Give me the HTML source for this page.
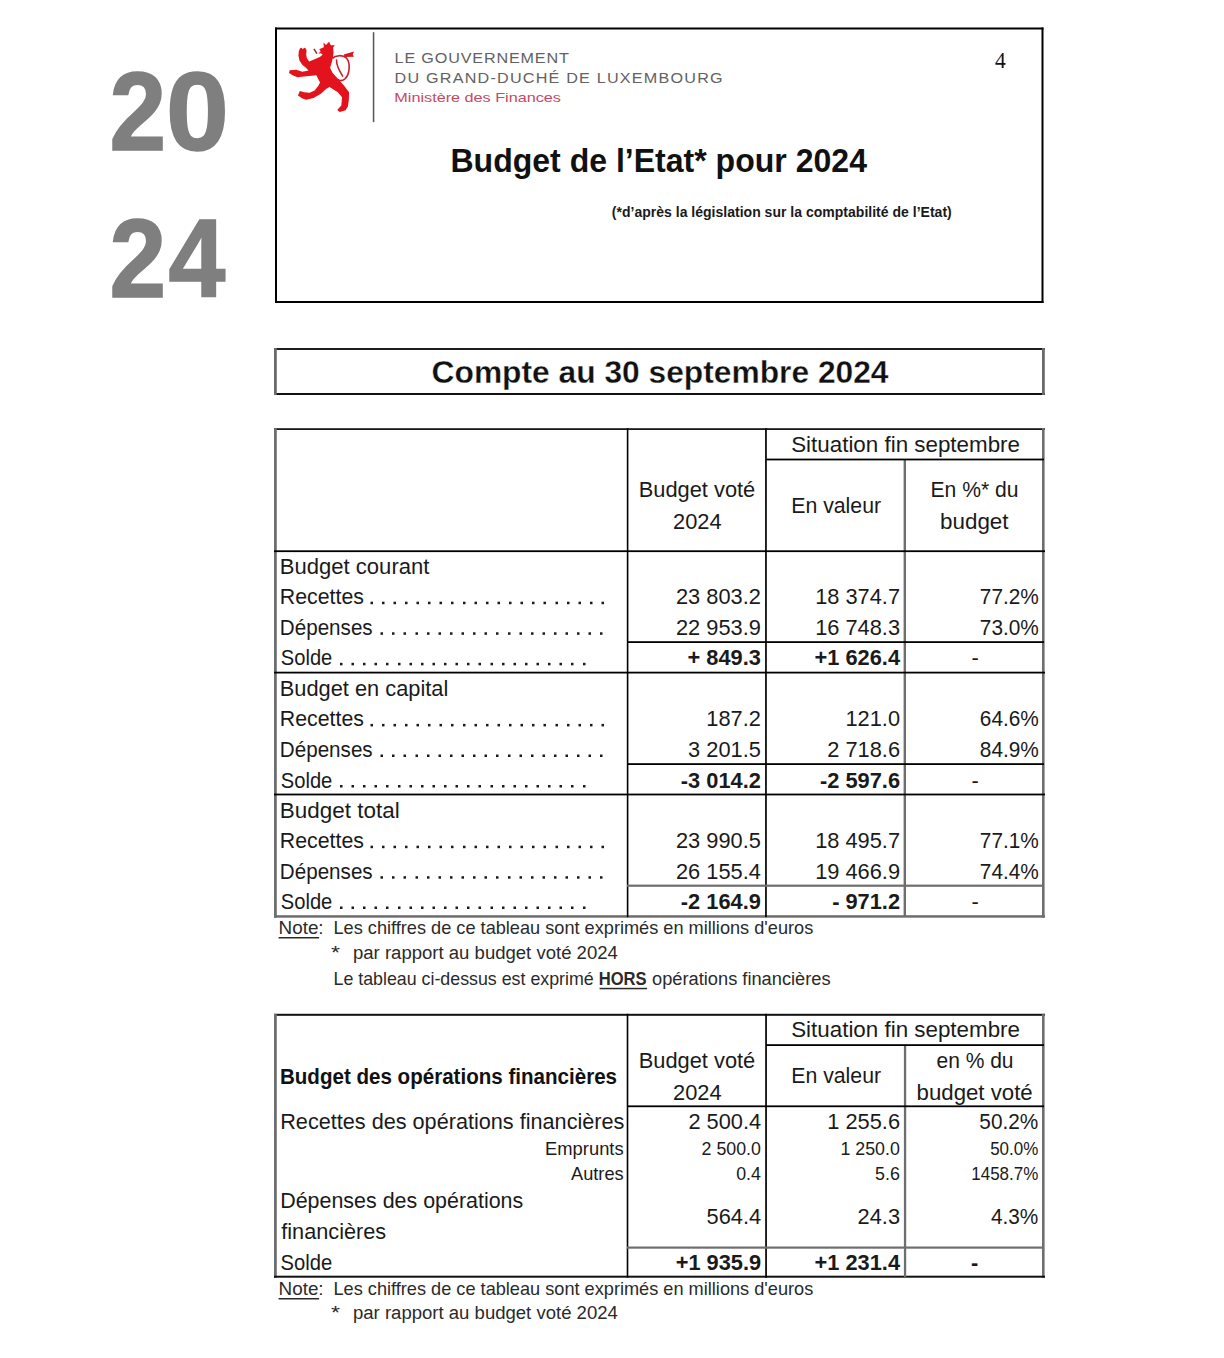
<!DOCTYPE html>
<html><head><meta charset="utf-8"><title>Budget de l'Etat 2024</title>
<style>
html,body{margin:0;padding:0;background:#fff;}
body{width:1224px;height:1358px;overflow:hidden;font-family:"Liberation Sans",sans-serif;}
svg{display:block;position:absolute;left:0;top:0;}
.LS{font-family:"Liberation Sans",sans-serif;}
.LR{font-family:"Liberation Serif",serif;}
.b{font-weight:bold;}
text{fill:#1a1a1a;white-space:pre;}
</style></head><body>
<svg width="1224" height="1358" viewBox="0 0 1224 1358">
<g shape-rendering="auto">
<rect x="275.00" y="27.50" width="768.50" height="2.00"/>
<rect x="275.00" y="27.50" width="2.00" height="275.50"/>
<rect x="1041.50" y="27.50" width="2.00" height="275.50"/>
<rect x="275.00" y="301.00" width="768.50" height="2.00"/>
<rect x="372.80" y="32.20" width="1.50" height="90.00" fill="#555"/>
<rect x="274.00" y="348.00" width="771.00" height="2.00" fill="#1e1e1e"/>
<rect x="274.00" y="393.00" width="771.00" height="2.00" fill="#111"/>
<rect x="274.00" y="348.00" width="2.80" height="47.00" fill="#6a6a6a"/>
<rect x="1042.00" y="348.00" width="2.80" height="47.00" fill="#6a6a6a"/>
<rect x="274.00" y="428.20" width="771.00" height="1.80" fill="#1a1a1a"/>
<rect x="274.00" y="428.20" width="2.80" height="489.50" fill="#6e6e6e"/>
<rect x="1042.00" y="428.20" width="2.60" height="489.50" fill="#6e6e6e"/>
<rect x="274.00" y="915.20" width="771.00" height="2.50" fill="#6e6e6e"/>
<rect x="626.80" y="428.20" width="1.60" height="489.00"/>
<rect x="765.10" y="428.20" width="1.70" height="489.00"/>
<rect x="903.60" y="459.00" width="2.40" height="458.00" fill="#6e6e6e"/>
<rect x="766.00" y="458.60" width="278.00" height="1.80"/>
<rect x="274.00" y="550.30" width="771.00" height="1.80"/>
<rect x="274.00" y="671.70" width="771.00" height="1.80"/>
<rect x="274.00" y="793.60" width="771.00" height="1.80"/>
<rect x="627.00" y="641.20" width="417.00" height="1.80"/>
<rect x="627.00" y="763.20" width="417.00" height="1.80"/>
<rect x="627.00" y="884.60" width="417.00" height="2.20" fill="#6e6e6e"/>
<rect x="370.50" y="601.70" width="2.50" height="2.50" fill="#1a1a1a"/>
<rect x="382.00" y="601.70" width="2.50" height="2.50" fill="#1a1a1a"/>
<rect x="393.50" y="601.70" width="2.50" height="2.50" fill="#1a1a1a"/>
<rect x="405.00" y="601.70" width="2.50" height="2.50" fill="#1a1a1a"/>
<rect x="416.50" y="601.70" width="2.50" height="2.50" fill="#1a1a1a"/>
<rect x="428.00" y="601.70" width="2.50" height="2.50" fill="#1a1a1a"/>
<rect x="439.50" y="601.70" width="2.50" height="2.50" fill="#1a1a1a"/>
<rect x="451.00" y="601.70" width="2.50" height="2.50" fill="#1a1a1a"/>
<rect x="463.00" y="601.70" width="2.50" height="2.50" fill="#1a1a1a"/>
<rect x="474.50" y="601.70" width="2.50" height="2.50" fill="#1a1a1a"/>
<rect x="486.00" y="601.70" width="2.50" height="2.50" fill="#1a1a1a"/>
<rect x="497.50" y="601.70" width="2.50" height="2.50" fill="#1a1a1a"/>
<rect x="509.00" y="601.70" width="2.50" height="2.50" fill="#1a1a1a"/>
<rect x="520.50" y="601.70" width="2.50" height="2.50" fill="#1a1a1a"/>
<rect x="532.00" y="601.70" width="2.50" height="2.50" fill="#1a1a1a"/>
<rect x="543.50" y="601.70" width="2.50" height="2.50" fill="#1a1a1a"/>
<rect x="555.50" y="601.70" width="2.50" height="2.50" fill="#1a1a1a"/>
<rect x="567.00" y="601.70" width="2.50" height="2.50" fill="#1a1a1a"/>
<rect x="578.50" y="601.70" width="2.50" height="2.50" fill="#1a1a1a"/>
<rect x="590.00" y="601.70" width="2.50" height="2.50" fill="#1a1a1a"/>
<rect x="601.50" y="601.70" width="2.50" height="2.50" fill="#1a1a1a"/>
<rect x="380.50" y="632.30" width="2.50" height="2.50" fill="#1a1a1a"/>
<rect x="392.00" y="632.30" width="2.50" height="2.50" fill="#1a1a1a"/>
<rect x="403.50" y="632.30" width="2.50" height="2.50" fill="#1a1a1a"/>
<rect x="415.50" y="632.30" width="2.50" height="2.50" fill="#1a1a1a"/>
<rect x="427.00" y="632.30" width="2.50" height="2.50" fill="#1a1a1a"/>
<rect x="438.50" y="632.30" width="2.50" height="2.50" fill="#1a1a1a"/>
<rect x="450.00" y="632.30" width="2.50" height="2.50" fill="#1a1a1a"/>
<rect x="461.50" y="632.30" width="2.50" height="2.50" fill="#1a1a1a"/>
<rect x="473.00" y="632.30" width="2.50" height="2.50" fill="#1a1a1a"/>
<rect x="484.50" y="632.30" width="2.50" height="2.50" fill="#1a1a1a"/>
<rect x="496.00" y="632.30" width="2.50" height="2.50" fill="#1a1a1a"/>
<rect x="508.00" y="632.30" width="2.50" height="2.50" fill="#1a1a1a"/>
<rect x="519.50" y="632.30" width="2.50" height="2.50" fill="#1a1a1a"/>
<rect x="531.00" y="632.30" width="2.50" height="2.50" fill="#1a1a1a"/>
<rect x="542.50" y="632.30" width="2.50" height="2.50" fill="#1a1a1a"/>
<rect x="554.00" y="632.30" width="2.50" height="2.50" fill="#1a1a1a"/>
<rect x="565.50" y="632.30" width="2.50" height="2.50" fill="#1a1a1a"/>
<rect x="577.00" y="632.30" width="2.50" height="2.50" fill="#1a1a1a"/>
<rect x="588.50" y="632.30" width="2.50" height="2.50" fill="#1a1a1a"/>
<rect x="600.00" y="632.30" width="2.50" height="2.50" fill="#1a1a1a"/>
<rect x="340.00" y="662.80" width="2.50" height="2.50" fill="#1a1a1a"/>
<rect x="351.50" y="662.80" width="2.50" height="2.50" fill="#1a1a1a"/>
<rect x="363.00" y="662.80" width="2.50" height="2.50" fill="#1a1a1a"/>
<rect x="374.50" y="662.80" width="2.50" height="2.50" fill="#1a1a1a"/>
<rect x="386.00" y="662.80" width="2.50" height="2.50" fill="#1a1a1a"/>
<rect x="398.00" y="662.80" width="2.50" height="2.50" fill="#1a1a1a"/>
<rect x="409.50" y="662.80" width="2.50" height="2.50" fill="#1a1a1a"/>
<rect x="421.00" y="662.80" width="2.50" height="2.50" fill="#1a1a1a"/>
<rect x="432.50" y="662.80" width="2.50" height="2.50" fill="#1a1a1a"/>
<rect x="444.00" y="662.80" width="2.50" height="2.50" fill="#1a1a1a"/>
<rect x="455.50" y="662.80" width="2.50" height="2.50" fill="#1a1a1a"/>
<rect x="467.00" y="662.80" width="2.50" height="2.50" fill="#1a1a1a"/>
<rect x="478.50" y="662.80" width="2.50" height="2.50" fill="#1a1a1a"/>
<rect x="490.50" y="662.80" width="2.50" height="2.50" fill="#1a1a1a"/>
<rect x="502.00" y="662.80" width="2.50" height="2.50" fill="#1a1a1a"/>
<rect x="513.50" y="662.80" width="2.50" height="2.50" fill="#1a1a1a"/>
<rect x="525.00" y="662.80" width="2.50" height="2.50" fill="#1a1a1a"/>
<rect x="536.50" y="662.80" width="2.50" height="2.50" fill="#1a1a1a"/>
<rect x="548.00" y="662.80" width="2.50" height="2.50" fill="#1a1a1a"/>
<rect x="559.50" y="662.80" width="2.50" height="2.50" fill="#1a1a1a"/>
<rect x="571.00" y="662.80" width="2.50" height="2.50" fill="#1a1a1a"/>
<rect x="583.00" y="662.80" width="2.50" height="2.50" fill="#1a1a1a"/>
<rect x="370.50" y="723.90" width="2.50" height="2.50" fill="#1a1a1a"/>
<rect x="382.00" y="723.90" width="2.50" height="2.50" fill="#1a1a1a"/>
<rect x="393.50" y="723.90" width="2.50" height="2.50" fill="#1a1a1a"/>
<rect x="405.00" y="723.90" width="2.50" height="2.50" fill="#1a1a1a"/>
<rect x="416.50" y="723.90" width="2.50" height="2.50" fill="#1a1a1a"/>
<rect x="428.00" y="723.90" width="2.50" height="2.50" fill="#1a1a1a"/>
<rect x="439.50" y="723.90" width="2.50" height="2.50" fill="#1a1a1a"/>
<rect x="451.00" y="723.90" width="2.50" height="2.50" fill="#1a1a1a"/>
<rect x="463.00" y="723.90" width="2.50" height="2.50" fill="#1a1a1a"/>
<rect x="474.50" y="723.90" width="2.50" height="2.50" fill="#1a1a1a"/>
<rect x="486.00" y="723.90" width="2.50" height="2.50" fill="#1a1a1a"/>
<rect x="497.50" y="723.90" width="2.50" height="2.50" fill="#1a1a1a"/>
<rect x="509.00" y="723.90" width="2.50" height="2.50" fill="#1a1a1a"/>
<rect x="520.50" y="723.90" width="2.50" height="2.50" fill="#1a1a1a"/>
<rect x="532.00" y="723.90" width="2.50" height="2.50" fill="#1a1a1a"/>
<rect x="543.50" y="723.90" width="2.50" height="2.50" fill="#1a1a1a"/>
<rect x="555.50" y="723.90" width="2.50" height="2.50" fill="#1a1a1a"/>
<rect x="567.00" y="723.90" width="2.50" height="2.50" fill="#1a1a1a"/>
<rect x="578.50" y="723.90" width="2.50" height="2.50" fill="#1a1a1a"/>
<rect x="590.00" y="723.90" width="2.50" height="2.50" fill="#1a1a1a"/>
<rect x="601.50" y="723.90" width="2.50" height="2.50" fill="#1a1a1a"/>
<rect x="380.50" y="754.50" width="2.50" height="2.50" fill="#1a1a1a"/>
<rect x="392.00" y="754.50" width="2.50" height="2.50" fill="#1a1a1a"/>
<rect x="403.50" y="754.50" width="2.50" height="2.50" fill="#1a1a1a"/>
<rect x="415.50" y="754.50" width="2.50" height="2.50" fill="#1a1a1a"/>
<rect x="427.00" y="754.50" width="2.50" height="2.50" fill="#1a1a1a"/>
<rect x="438.50" y="754.50" width="2.50" height="2.50" fill="#1a1a1a"/>
<rect x="450.00" y="754.50" width="2.50" height="2.50" fill="#1a1a1a"/>
<rect x="461.50" y="754.50" width="2.50" height="2.50" fill="#1a1a1a"/>
<rect x="473.00" y="754.50" width="2.50" height="2.50" fill="#1a1a1a"/>
<rect x="484.50" y="754.50" width="2.50" height="2.50" fill="#1a1a1a"/>
<rect x="496.00" y="754.50" width="2.50" height="2.50" fill="#1a1a1a"/>
<rect x="508.00" y="754.50" width="2.50" height="2.50" fill="#1a1a1a"/>
<rect x="519.50" y="754.50" width="2.50" height="2.50" fill="#1a1a1a"/>
<rect x="531.00" y="754.50" width="2.50" height="2.50" fill="#1a1a1a"/>
<rect x="542.50" y="754.50" width="2.50" height="2.50" fill="#1a1a1a"/>
<rect x="554.00" y="754.50" width="2.50" height="2.50" fill="#1a1a1a"/>
<rect x="565.50" y="754.50" width="2.50" height="2.50" fill="#1a1a1a"/>
<rect x="577.00" y="754.50" width="2.50" height="2.50" fill="#1a1a1a"/>
<rect x="588.50" y="754.50" width="2.50" height="2.50" fill="#1a1a1a"/>
<rect x="600.00" y="754.50" width="2.50" height="2.50" fill="#1a1a1a"/>
<rect x="340.00" y="785.00" width="2.50" height="2.50" fill="#1a1a1a"/>
<rect x="351.50" y="785.00" width="2.50" height="2.50" fill="#1a1a1a"/>
<rect x="363.00" y="785.00" width="2.50" height="2.50" fill="#1a1a1a"/>
<rect x="374.50" y="785.00" width="2.50" height="2.50" fill="#1a1a1a"/>
<rect x="386.00" y="785.00" width="2.50" height="2.50" fill="#1a1a1a"/>
<rect x="398.00" y="785.00" width="2.50" height="2.50" fill="#1a1a1a"/>
<rect x="409.50" y="785.00" width="2.50" height="2.50" fill="#1a1a1a"/>
<rect x="421.00" y="785.00" width="2.50" height="2.50" fill="#1a1a1a"/>
<rect x="432.50" y="785.00" width="2.50" height="2.50" fill="#1a1a1a"/>
<rect x="444.00" y="785.00" width="2.50" height="2.50" fill="#1a1a1a"/>
<rect x="455.50" y="785.00" width="2.50" height="2.50" fill="#1a1a1a"/>
<rect x="467.00" y="785.00" width="2.50" height="2.50" fill="#1a1a1a"/>
<rect x="478.50" y="785.00" width="2.50" height="2.50" fill="#1a1a1a"/>
<rect x="490.50" y="785.00" width="2.50" height="2.50" fill="#1a1a1a"/>
<rect x="502.00" y="785.00" width="2.50" height="2.50" fill="#1a1a1a"/>
<rect x="513.50" y="785.00" width="2.50" height="2.50" fill="#1a1a1a"/>
<rect x="525.00" y="785.00" width="2.50" height="2.50" fill="#1a1a1a"/>
<rect x="536.50" y="785.00" width="2.50" height="2.50" fill="#1a1a1a"/>
<rect x="548.00" y="785.00" width="2.50" height="2.50" fill="#1a1a1a"/>
<rect x="559.50" y="785.00" width="2.50" height="2.50" fill="#1a1a1a"/>
<rect x="571.00" y="785.00" width="2.50" height="2.50" fill="#1a1a1a"/>
<rect x="583.00" y="785.00" width="2.50" height="2.50" fill="#1a1a1a"/>
<rect x="370.50" y="845.70" width="2.50" height="2.50" fill="#1a1a1a"/>
<rect x="382.00" y="845.70" width="2.50" height="2.50" fill="#1a1a1a"/>
<rect x="393.50" y="845.70" width="2.50" height="2.50" fill="#1a1a1a"/>
<rect x="405.00" y="845.70" width="2.50" height="2.50" fill="#1a1a1a"/>
<rect x="416.50" y="845.70" width="2.50" height="2.50" fill="#1a1a1a"/>
<rect x="428.00" y="845.70" width="2.50" height="2.50" fill="#1a1a1a"/>
<rect x="439.50" y="845.70" width="2.50" height="2.50" fill="#1a1a1a"/>
<rect x="451.00" y="845.70" width="2.50" height="2.50" fill="#1a1a1a"/>
<rect x="463.00" y="845.70" width="2.50" height="2.50" fill="#1a1a1a"/>
<rect x="474.50" y="845.70" width="2.50" height="2.50" fill="#1a1a1a"/>
<rect x="486.00" y="845.70" width="2.50" height="2.50" fill="#1a1a1a"/>
<rect x="497.50" y="845.70" width="2.50" height="2.50" fill="#1a1a1a"/>
<rect x="509.00" y="845.70" width="2.50" height="2.50" fill="#1a1a1a"/>
<rect x="520.50" y="845.70" width="2.50" height="2.50" fill="#1a1a1a"/>
<rect x="532.00" y="845.70" width="2.50" height="2.50" fill="#1a1a1a"/>
<rect x="543.50" y="845.70" width="2.50" height="2.50" fill="#1a1a1a"/>
<rect x="555.50" y="845.70" width="2.50" height="2.50" fill="#1a1a1a"/>
<rect x="567.00" y="845.70" width="2.50" height="2.50" fill="#1a1a1a"/>
<rect x="578.50" y="845.70" width="2.50" height="2.50" fill="#1a1a1a"/>
<rect x="590.00" y="845.70" width="2.50" height="2.50" fill="#1a1a1a"/>
<rect x="601.50" y="845.70" width="2.50" height="2.50" fill="#1a1a1a"/>
<rect x="380.50" y="876.20" width="2.50" height="2.50" fill="#1a1a1a"/>
<rect x="392.00" y="876.20" width="2.50" height="2.50" fill="#1a1a1a"/>
<rect x="403.50" y="876.20" width="2.50" height="2.50" fill="#1a1a1a"/>
<rect x="415.50" y="876.20" width="2.50" height="2.50" fill="#1a1a1a"/>
<rect x="427.00" y="876.20" width="2.50" height="2.50" fill="#1a1a1a"/>
<rect x="438.50" y="876.20" width="2.50" height="2.50" fill="#1a1a1a"/>
<rect x="450.00" y="876.20" width="2.50" height="2.50" fill="#1a1a1a"/>
<rect x="461.50" y="876.20" width="2.50" height="2.50" fill="#1a1a1a"/>
<rect x="473.00" y="876.20" width="2.50" height="2.50" fill="#1a1a1a"/>
<rect x="484.50" y="876.20" width="2.50" height="2.50" fill="#1a1a1a"/>
<rect x="496.00" y="876.20" width="2.50" height="2.50" fill="#1a1a1a"/>
<rect x="508.00" y="876.20" width="2.50" height="2.50" fill="#1a1a1a"/>
<rect x="519.50" y="876.20" width="2.50" height="2.50" fill="#1a1a1a"/>
<rect x="531.00" y="876.20" width="2.50" height="2.50" fill="#1a1a1a"/>
<rect x="542.50" y="876.20" width="2.50" height="2.50" fill="#1a1a1a"/>
<rect x="554.00" y="876.20" width="2.50" height="2.50" fill="#1a1a1a"/>
<rect x="565.50" y="876.20" width="2.50" height="2.50" fill="#1a1a1a"/>
<rect x="577.00" y="876.20" width="2.50" height="2.50" fill="#1a1a1a"/>
<rect x="588.50" y="876.20" width="2.50" height="2.50" fill="#1a1a1a"/>
<rect x="600.00" y="876.20" width="2.50" height="2.50" fill="#1a1a1a"/>
<rect x="340.00" y="906.50" width="2.50" height="2.50" fill="#1a1a1a"/>
<rect x="351.50" y="906.50" width="2.50" height="2.50" fill="#1a1a1a"/>
<rect x="363.00" y="906.50" width="2.50" height="2.50" fill="#1a1a1a"/>
<rect x="374.50" y="906.50" width="2.50" height="2.50" fill="#1a1a1a"/>
<rect x="386.00" y="906.50" width="2.50" height="2.50" fill="#1a1a1a"/>
<rect x="398.00" y="906.50" width="2.50" height="2.50" fill="#1a1a1a"/>
<rect x="409.50" y="906.50" width="2.50" height="2.50" fill="#1a1a1a"/>
<rect x="421.00" y="906.50" width="2.50" height="2.50" fill="#1a1a1a"/>
<rect x="432.50" y="906.50" width="2.50" height="2.50" fill="#1a1a1a"/>
<rect x="444.00" y="906.50" width="2.50" height="2.50" fill="#1a1a1a"/>
<rect x="455.50" y="906.50" width="2.50" height="2.50" fill="#1a1a1a"/>
<rect x="467.00" y="906.50" width="2.50" height="2.50" fill="#1a1a1a"/>
<rect x="478.50" y="906.50" width="2.50" height="2.50" fill="#1a1a1a"/>
<rect x="490.50" y="906.50" width="2.50" height="2.50" fill="#1a1a1a"/>
<rect x="502.00" y="906.50" width="2.50" height="2.50" fill="#1a1a1a"/>
<rect x="513.50" y="906.50" width="2.50" height="2.50" fill="#1a1a1a"/>
<rect x="525.00" y="906.50" width="2.50" height="2.50" fill="#1a1a1a"/>
<rect x="536.50" y="906.50" width="2.50" height="2.50" fill="#1a1a1a"/>
<rect x="548.00" y="906.50" width="2.50" height="2.50" fill="#1a1a1a"/>
<rect x="559.50" y="906.50" width="2.50" height="2.50" fill="#1a1a1a"/>
<rect x="571.00" y="906.50" width="2.50" height="2.50" fill="#1a1a1a"/>
<rect x="583.00" y="906.50" width="2.50" height="2.50" fill="#1a1a1a"/>
<rect x="278.60" y="937.00" width="40.50" height="1.50" fill="#2a2a2a"/>
<rect x="599.60" y="987.80" width="47.50" height="1.50" fill="#2a2a2a"/>
<rect x="274.00" y="1013.80" width="771.00" height="2.00" fill="#111"/>
<rect x="274.00" y="1013.80" width="2.80" height="264.00" fill="#6e6e6e"/>
<rect x="1042.00" y="1013.80" width="2.60" height="264.00" fill="#6e6e6e"/>
<rect x="274.00" y="1275.70" width="771.00" height="2.00" fill="#111"/>
<rect x="626.70" y="1013.80" width="1.60" height="264.00"/>
<rect x="765.20" y="1013.80" width="1.70" height="264.00"/>
<rect x="903.90" y="1045.00" width="2.30" height="232.00" fill="#6e6e6e"/>
<rect x="766.00" y="1044.20" width="278.00" height="1.80"/>
<rect x="627.00" y="1105.40" width="417.00" height="1.80"/>
<rect x="627.00" y="1246.50" width="417.00" height="2.20" fill="#6e6e6e"/>
<rect x="278.60" y="1298.00" width="40.50" height="1.50" fill="#2a2a2a"/>
</g>
<g transform="translate(284 36) scale(0.061275)" fill="#e3131d">
<path d="M262 200 L290 192 L305 215 L330 192 L355 205 L368 235 L362 300 L372 360 L410 415 L460 395 L520 372 L590 340 L632 300 L600 282 L560 288 L598 250 L575 215 L620 195 L650 185 L645 105 L685 148 L735 95 L765 150 L830 150 L802 188 L808 260 L802 330 L782 420 L752 520 L792 600 L882 700 L972 800 L1062 920 L1058 1050 L1042 1150 L1005 1212 L912 1242 L868 1208 L935 1135 L948 1000 L878 920 L800 870 L742 832 L692 862 L602 942 L482 1012 L362 1042 L300 1022 L228 972 L258 898 L330 918 L420 928 L500 888 L558 818 L588 758 L558 700 L528 642 L450 648 L330 660 L220 672 L140 642 L82 602 L92 558 L200 552 L300 582 L400 562 L358 520 L298 470 L252 400 L236 320 L242 250 Z"/>
<path d="M478 215 L500 203 L548 280 L526 292 Z" fill="#9e2a34"/>
<path d="M975 300 L1142 252 L1122 300 L1142 338 L990 342 Z"/>
<path d="M790 365 C840 312 960 302 1022 362 C1082 432 1082 622 992 702 C952 732 902 732 872 702 M858 382 C848 472 898 562 962 662" fill="none" stroke="#d01b2a" stroke-width="26"/>
</g>

<g>
<text class="LS b" transform="translate(109.42 150.00) scale(0.9091 1)" font-size="112.00" style="fill:#7f7f7f;stroke:#7f7f7f;stroke-width:1.65px">2</text>
<text class="LS b" transform="translate(165.91 150.00) scale(1.0093 1)" font-size="112.00" style="fill:#7f7f7f;stroke:#7f7f7f;stroke-width:1.49px">0</text>
<text class="LS b" transform="translate(109.42 296.80) scale(0.9091 1)" font-size="112.00" style="fill:#7f7f7f;stroke:#7f7f7f;stroke-width:1.65px">2</text>
<text class="LS b" transform="translate(168.44 296.80) scale(0.9131 1)" font-size="112.00" style="fill:#7f7f7f;stroke:#7f7f7f;stroke-width:1.64px">4</text>
<text class="LS" transform="translate(394.55 62.90) scale(1.0500 1)" font-size="15.40" style="fill:#626262;letter-spacing:0.809px">LE GOUVERNEMENT</text>
<text class="LS" transform="translate(394.55 83.30) scale(1.0500 1)" font-size="15.40" style="fill:#626262;letter-spacing:1.160px">DU GRAND-DUCHÉ DE LUXEMBOURG</text>
<text class="LS" transform="translate(394.37 102.10) scale(1.2289 1)" font-size="13.20" style="fill:#c44a66">Ministère des Finances</text>
<text class="LR" transform="translate(995.00 68.40) scale(0.9545 1)" font-size="22.50" style="fill:#111">4</text>
<text class="LS b" transform="translate(450.43 171.70) scale(0.9830 1)" font-size="32.60" style="fill:#111">Budget de l’Etat* pour 2024</text>
<text class="LS b" transform="translate(611.80 217.00) scale(0.9889 1)" font-size="14.20">(*d’après la législation sur la comptabilité de l’Etat)</text>
<text class="LS b" transform="translate(431.56 382.50) scale(0.9861 1)" font-size="32.20" style="fill:#111;stroke:#fff;stroke-width:0.30px">Compte au 30 septembre 2024</text>
<text class="LS" transform="translate(791.20 451.80) scale(1.0269 1)" font-size="21.80">Situation fin septembre</text>
<text class="LS" transform="translate(638.70 496.90) scale(1.0025 1)" font-size="21.80">Budget voté</text>
<text class="LS" transform="translate(673.00 528.90) scale(1.0028 1)" font-size="21.80">2024</text>
<text class="LS" transform="translate(791.22 512.80) scale(0.9766 1)" font-size="21.80">En valeur</text>
<text class="LS" transform="translate(930.53 496.60) scale(0.9689 1)" font-size="21.80">En %* du</text>
<text class="LS" transform="translate(939.97 528.70) scale(1.0288 1)" font-size="21.80">budget</text>
<text class="LS" transform="translate(279.79 573.50) scale(1.0124 1)" font-size="21.80">Budget courant</text>
<text class="LS" transform="translate(279.82 604.20) scale(0.9775 1)" font-size="21.80">Recettes</text>
<text class="LS" transform="translate(279.85 634.80) scale(0.9460 1)" font-size="21.80">Dépenses</text>
<text class="LS" transform="translate(280.80 665.30) scale(0.9240 1)" font-size="21.80">Solde</text>
<text class="LS" transform="translate(279.80 695.80)" font-size="21.80">Budget en capital</text>
<text class="LS" transform="translate(279.82 726.40) scale(0.9775 1)" font-size="21.80">Recettes</text>
<text class="LS" transform="translate(279.85 757.00) scale(0.9460 1)" font-size="21.80">Dépenses</text>
<text class="LS" transform="translate(280.80 787.50) scale(0.9240 1)" font-size="21.80">Solde</text>
<text class="LS" transform="translate(279.77 817.60) scale(1.0306 1)" font-size="21.80">Budget total</text>
<text class="LS" transform="translate(279.82 848.20) scale(0.9775 1)" font-size="21.80">Recettes</text>
<text class="LS" transform="translate(279.85 878.70) scale(0.9460 1)" font-size="21.80">Dépenses</text>
<text class="LS" transform="translate(280.80 909.00) scale(0.9240 1)" font-size="21.80">Solde</text>
<text class="LS" transform="translate(675.98 604.20)" font-size="21.80">23 803.2</text>
<text class="LS" transform="translate(815.18 604.20)" font-size="21.80">18 374.7</text>
<text class="LS" transform="translate(979.84 604.20) scale(0.9550 1)" font-size="21.80">77.2%</text>
<text class="LS" transform="translate(675.98 634.80)" font-size="21.80">22 953.9</text>
<text class="LS" transform="translate(815.18 634.80)" font-size="21.80">16 748.3</text>
<text class="LS" transform="translate(979.84 634.80) scale(0.9550 1)" font-size="21.80">73.0%</text>
<text class="LS b" transform="translate(687.49 665.30)" font-size="21.80">+ 849.3</text>
<text class="LS b" transform="translate(814.57 665.30)" font-size="21.80">+1 626.4</text>
<text class="LS" transform="translate(971.50 665.30)" font-size="21.80">-</text>
<text class="LS" transform="translate(706.28 726.40)" font-size="21.80">187.2</text>
<text class="LS" transform="translate(845.48 726.40)" font-size="21.80">121.0</text>
<text class="LS" transform="translate(979.84 726.40) scale(0.9550 1)" font-size="21.80">64.6%</text>
<text class="LS" transform="translate(688.10 757.00)" font-size="21.80">3 201.5</text>
<text class="LS" transform="translate(827.30 757.00)" font-size="21.80">2 718.6</text>
<text class="LS" transform="translate(979.84 757.00) scale(0.9550 1)" font-size="21.80">84.9%</text>
<text class="LS b" transform="translate(680.84 787.50)" font-size="21.80">-3 014.2</text>
<text class="LS b" transform="translate(820.04 787.50)" font-size="21.80">-2 597.6</text>
<text class="LS" transform="translate(971.50 787.50)" font-size="21.80">-</text>
<text class="LS" transform="translate(675.98 848.20)" font-size="21.80">23 990.5</text>
<text class="LS" transform="translate(815.18 848.20)" font-size="21.80">18 495.7</text>
<text class="LS" transform="translate(979.84 848.20) scale(0.9550 1)" font-size="21.80">77.1%</text>
<text class="LS" transform="translate(675.98 878.70)" font-size="21.80">26 155.4</text>
<text class="LS" transform="translate(815.18 878.70)" font-size="21.80">19 466.9</text>
<text class="LS" transform="translate(979.84 878.70) scale(0.9550 1)" font-size="21.80">74.4%</text>
<text class="LS b" transform="translate(680.84 909.00)" font-size="21.80">-2 164.9</text>
<text class="LS b" transform="translate(832.16 909.00)" font-size="21.80">- 971.2</text>
<text class="LS" transform="translate(971.50 909.00)" font-size="21.80">-</text>
<text class="LS" transform="translate(278.55 934.40) scale(1.0482 1)" font-size="18.00" style="fill:#2a2a2a">Note:</text>
<text class="LS" transform="translate(333.49 934.40) scale(1.0098 1)" font-size="18.00" style="fill:#2a2a2a">Les chiffres de ce tableau sont exprimés en millions d'euros</text>
<text class="LS" transform="translate(331.00 959.40) scale(1.2857 1)" font-size="18.00" style="fill:#2a2a2a">*</text>
<text class="LS" transform="translate(352.97 959.40) scale(1.0305 1)" font-size="18.00" style="fill:#2a2a2a">par rapport au budget voté 2024</text>
<text class="LS" transform="translate(333.51 984.50) scale(0.9896 1)" font-size="18.00" style="fill:#2a2a2a">Le tableau ci-dessus est exprimé</text>
<text class="LS b" transform="translate(598.68 984.50) scale(0.9216 1)" font-size="18.00" style="fill:#2a2a2a">HORS</text>
<text class="LS" transform="translate(652.00 984.50) scale(1.0147 1)" font-size="18.00" style="fill:#2a2a2a">opérations financières</text>
<text class="LS" transform="translate(791.20 1036.80) scale(1.0269 1)" font-size="21.80">Situation fin septembre</text>
<text class="LS" transform="translate(638.70 1067.60) scale(1.0025 1)" font-size="21.80">Budget voté</text>
<text class="LS" transform="translate(673.00 1099.70) scale(1.0028 1)" font-size="21.80">2024</text>
<text class="LS" transform="translate(791.22 1082.80) scale(0.9766 1)" font-size="21.80">En valeur</text>
<text class="LS" transform="translate(936.50 1067.60) scale(0.9637 1)" font-size="21.80">en % du</text>
<text class="LS" transform="translate(916.58 1099.60) scale(1.0195 1)" font-size="21.80">budget voté</text>
<text class="LS b" transform="translate(279.96 1083.50) scale(0.9433 1)" font-size="21.80" style="fill:#111">Budget des opérations financières</text>
<text class="LS" transform="translate(280.21 1128.70) scale(0.9936 1)" font-size="21.80">Recettes des opérations financières</text>
<text class="LS" transform="translate(545.07 1155.00) scale(1.0319 1)" font-size="17.80">Emprunts</text>
<text class="LS" transform="translate(571.00 1179.50) scale(1.0233 1)" font-size="17.80">Autres</text>
<text class="LS" transform="translate(280.22 1208.30) scale(0.9830 1)" font-size="21.80">Dépenses des opérations</text>
<text class="LS" transform="translate(281.20 1239.30) scale(0.9961 1)" font-size="21.80">financières</text>
<text class="LS" transform="translate(280.60 1269.80) scale(0.9276 1)" font-size="21.80">Solde</text>
<text class="LS" transform="translate(688.40 1128.90)" font-size="21.80">2 500.4</text>
<text class="LS" transform="translate(827.30 1128.90)" font-size="21.80">1 255.6</text>
<text class="LS" transform="translate(979.34 1128.90) scale(0.9550 1)" font-size="21.80">50.2%</text>
<text class="LS" transform="translate(701.56 1155.30)" font-size="17.80">2 500.0</text>
<text class="LS" transform="translate(840.46 1155.30)" font-size="17.80">1 250.0</text>
<text class="LS" transform="translate(990.17 1155.30) scale(0.9550 1)" font-size="17.80">50.0%</text>
<text class="LS" transform="translate(736.17 1179.60)" font-size="17.80">0.4</text>
<text class="LS" transform="translate(875.07 1179.60)" font-size="17.80">5.6</text>
<text class="LS" transform="translate(971.28 1179.60) scale(0.9550 1)" font-size="17.80">1458.7%</text>
<text class="LS" transform="translate(706.58 1223.90)" font-size="21.80">564.4</text>
<text class="LS" transform="translate(857.60 1223.90)" font-size="21.80">24.3</text>
<text class="LS" transform="translate(990.92 1223.90) scale(0.9550 1)" font-size="21.80">4.3%</text>
<text class="LS b" transform="translate(675.67 1269.80)" font-size="21.80">+1 935.9</text>
<text class="LS b" transform="translate(814.57 1269.80)" font-size="21.80">+1 231.4</text>
<text class="LS b" transform="translate(971.00 1269.80)" font-size="21.80">-</text>
<text class="LS" transform="translate(278.55 1295.00) scale(1.0482 1)" font-size="18.00" style="fill:#2a2a2a">Note:</text>
<text class="LS" transform="translate(333.49 1295.00) scale(1.0098 1)" font-size="18.00" style="fill:#2a2a2a">Les chiffres de ce tableau sont exprimés en millions d'euros</text>
<text class="LS" transform="translate(331.00 1319.20) scale(1.2857 1)" font-size="18.00" style="fill:#2a2a2a">*</text>
<text class="LS" transform="translate(352.97 1319.20) scale(1.0305 1)" font-size="18.00" style="fill:#2a2a2a">par rapport au budget voté 2024</text>
</g>
</svg>
</body></html>
